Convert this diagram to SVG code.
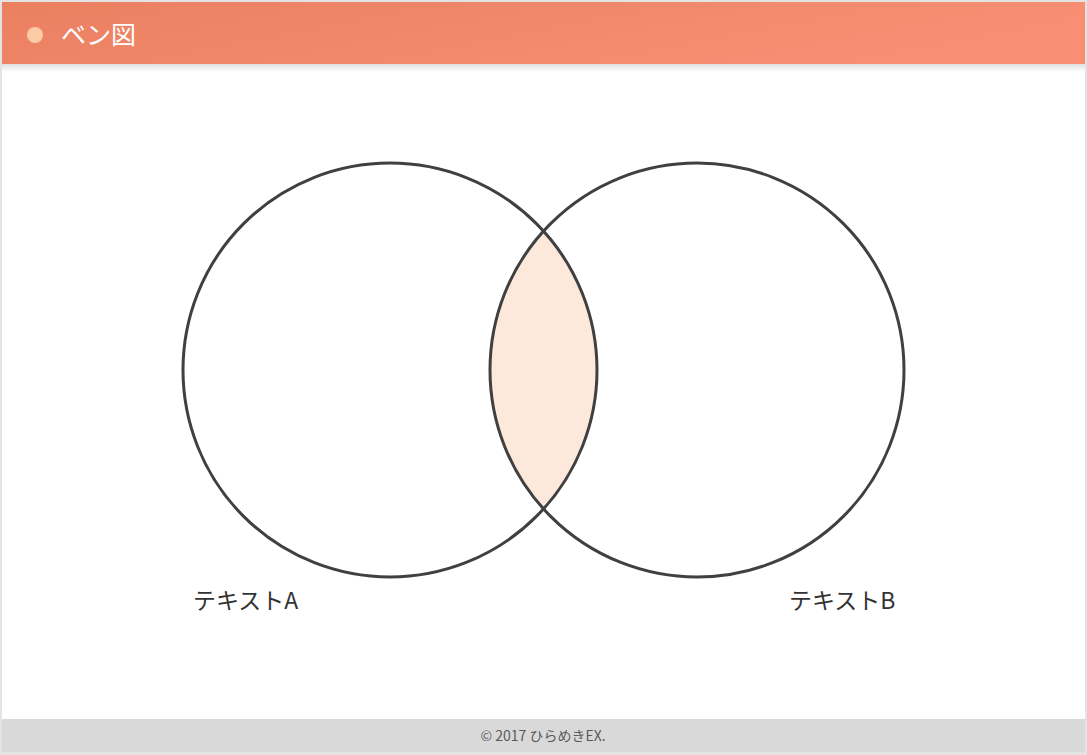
<svg xmlns="http://www.w3.org/2000/svg" width="1087" height="755" viewBox="0 0 1087 755">
<defs>
<linearGradient id="hdr" x1="0" y1="0" x2="1" y2="0.3">
<stop offset="0" stop-color="#EA8060"/>
<stop offset="1" stop-color="#F88F74"/>
</linearGradient>
<linearGradient id="shd" x1="0" y1="0" x2="0" y2="1">
<stop offset="0" stop-color="#000" stop-opacity="0.12"/>
<stop offset="1" stop-color="#000" stop-opacity="0"/>
</linearGradient>
<clipPath id="clipA"><circle cx="390" cy="370" r="207"/></clipPath>
</defs>
<style>
.jp{font-family:"Noto Sans CJK JP","Noto Sans",sans-serif;}
.ring{fill:none;stroke:#404040;stroke-width:3;}
.label{font-size:23px;fill:#333333;}
</style>
<rect x="0" y="0" width="1087" height="755" fill="#E3E3E3"/>
<rect x="2" y="2" width="1083" height="750" fill="#FFFFFF"/>
<g id="header">
<rect x="2" y="2" width="1083" height="62" fill="url(#hdr)"/>
<rect x="2" y="64" width="1083" height="8" fill="url(#shd)"/>
<circle cx="35" cy="35" r="8" fill="#FBCBA5"/>
<text x="61" y="44" class="jp" font-size="25" fill="#FFFFFF">ベン図</text>
</g>
<g id="lens">
<circle cx="697" cy="370" r="207" fill="#FDE9DB" clip-path="url(#clipA)"/>
</g>
<g id="circleA">
<circle cx="390" cy="370" r="207" class="ring"/>
<text x="193" y="609" class="jp label">テキストA</text>
</g>
<g id="circleB">
<circle cx="697" cy="370" r="207" class="ring"/>
<text x="789" y="609" class="jp label">テキストB</text>
</g>
<g id="connectors"/>
<g id="footer">
<rect x="2" y="719" width="1083" height="33" fill="#D9D9D9"/>
<text x="543" y="741" text-anchor="middle" class="jp" font-size="14" fill="#595959">© 2017 ひらめきEX.</text>
</g>
</svg>
